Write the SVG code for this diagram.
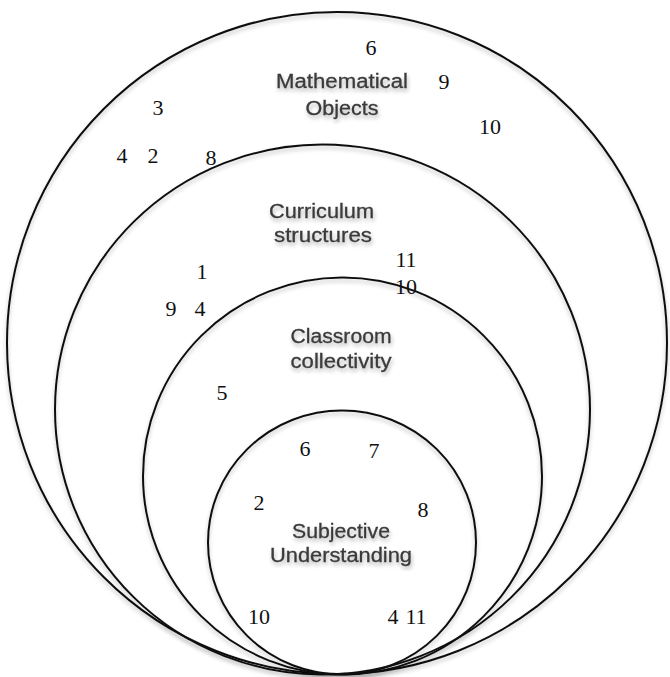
<svg xmlns="http://www.w3.org/2000/svg" width="670" height="677" viewBox="0 0 670 677">
<defs>
<filter id="sh" x="-10%" y="-10%" width="120%" height="130%">
<feGaussianBlur in="SourceAlpha" stdDeviation="2.2" result="b"/>
<feOffset in="b" dx="1" dy="3" result="o"/>
<feComponentTransfer in="o" result="s"><feFuncA type="linear" slope="0.3"/></feComponentTransfer>
<feMerge><feMergeNode in="s"/><feMergeNode in="SourceGraphic"/></feMerge>
</filter>
<filter id="lsh" x="-5%" y="-5%" width="110%" height="110%">
<feGaussianBlur in="SourceAlpha" stdDeviation="2" result="b"/>
<feOffset in="b" dx="0" dy="3" result="o"/>
<feComponentTransfer in="o" result="s"><feFuncA type="linear" slope="0.25"/></feComponentTransfer>
<feMerge><feMergeNode in="s"/><feMergeNode in="SourceGraphic"/></feMerge>
</filter>
</defs>
<style>
.ring{fill:none;stroke:#111;stroke-width:2;filter:url(#lsh)}
.lab{font-family:"Liberation Sans",Arial,sans-serif;font-size:20px;fill:#3a3a3a;stroke:#3a3a3a;stroke-width:0.3;text-anchor:middle;filter:url(#sh)}
.num{font-family:"Liberation Serif","Times New Roman",serif;font-size:22px;fill:#111;text-anchor:middle}
</style>
<rect width="670" height="677" fill="#fff"/>
<g id="mathematical-objects">
<ellipse class="ring" cx="337" cy="343" rx="330" ry="331"/>
<text class="lab" x="342" y="88" textLength="132" lengthAdjust="spacingAndGlyphs">Mathematical</text>
<text class="lab" x="342" y="115" textLength="73" lengthAdjust="spacingAndGlyphs">Objects</text>
</g>
<g id="curriculum-structures">
<ellipse class="ring" cx="322.5" cy="409.5" rx="267.5" ry="265"/>
<text class="lab" x="321.5" y="218" textLength="105" lengthAdjust="spacingAndGlyphs">Curriculum</text>
<text class="lab" x="323" y="242" textLength="98" lengthAdjust="spacingAndGlyphs">structures</text>
</g>
<g id="classroom-collectivity">
<ellipse class="ring" cx="342.5" cy="476" rx="199.5" ry="198.5"/>
<text class="lab" x="341" y="343" textLength="101" lengthAdjust="spacingAndGlyphs">Classroom</text>
<text class="lab" x="341" y="368" textLength="101" lengthAdjust="spacingAndGlyphs">collectivity</text>
</g>
<g id="subjective-understanding">
<ellipse class="ring" cx="342" cy="542.5" rx="134" ry="132"/>
<text class="lab" x="341" y="538" textLength="98" lengthAdjust="spacingAndGlyphs">Subjective</text>
<text class="lab" x="341" y="562" textLength="142" lengthAdjust="spacingAndGlyphs">Understanding</text>
</g>
<g id="numbers">
<text class="num" x="371" y="55">6</text>
<text class="num" x="444" y="89">9</text>
<text class="num" x="158" y="115">3</text>
<text class="num" x="490" y="134">10</text>
<text class="num" x="122" y="163">4</text>
<text class="num" x="153" y="163">2</text>
<text class="num" x="211" y="165">8</text>
<text class="num" x="202" y="279">1</text>
<text class="num" x="406" y="267">11</text>
<text class="num" x="406" y="294">10</text>
<text class="num" x="171" y="316">9</text>
<text class="num" x="200" y="316">4</text>
<text class="num" x="222" y="400">5</text>
<text class="num" x="305" y="456">6</text>
<text class="num" x="374" y="458">7</text>
<text class="num" x="259" y="510">2</text>
<text class="num" x="423" y="517">8</text>
<text class="num" x="259" y="624">10</text>
<text class="num" x="393" y="624">4</text>
<text class="num" x="416" y="624">11</text>
</g>
</svg>
